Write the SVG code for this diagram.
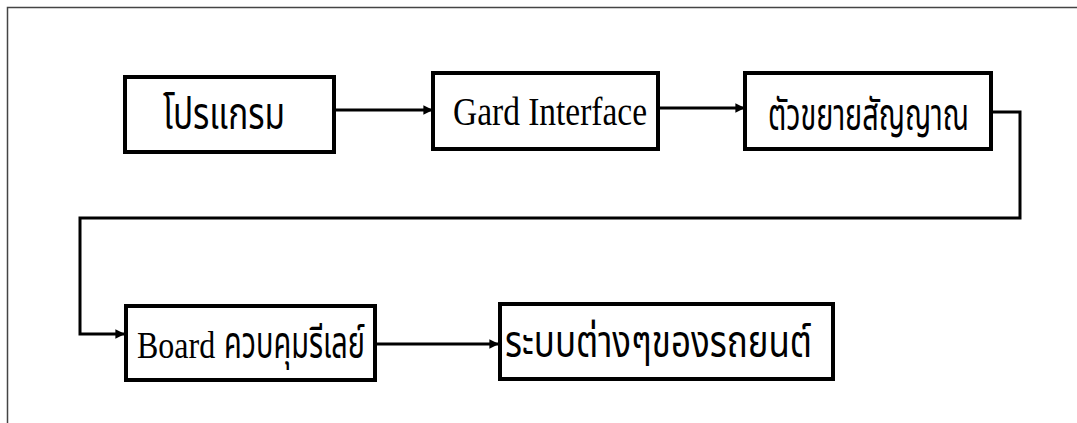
<svg xmlns="http://www.w3.org/2000/svg" width="1077" height="423" viewBox="0 0 1077 423">
<style>
.box{fill:#fff;stroke:#000;stroke-width:4}
.frame{fill:none;stroke:#444;stroke-width:1.5}
.con{fill:none;stroke:#000;stroke-width:3}
.t{font-family:"Liberation Serif","Noto Sans Thai","Noto Serif Thai","DejaVu Sans",serif;font-size:40px;fill:#000}
.th{font-size:44px}
</style>
<defs>
<marker id="ah" viewBox="0 0 10 10" refX="9" refY="5" markerWidth="3.2" markerHeight="3.2" orient="auto" markerUnits="strokeWidth">
<path d="M0,0 L10,5 L0,10 z" fill="#000"/>
</marker>
</defs>
<rect width="1077" height="423" fill="#fff"/>
<path class="frame" d="M7.5,423 V7.5 H1077"/>
<g id="connectors">
<path class="con" d="M334,110 H432" marker-end="url(#ah)"/>
<path class="con" d="M658,108 H744" marker-end="url(#ah)"/>
<path class="con" d="M991,112 H1020 V218 H80 V334 H124" marker-end="url(#ah)"/>
<path class="con" d="M375,344 H498" marker-end="url(#ah)"/>
</g>
<g id="n1"><rect class="box" x="125" y="77" width="209" height="75"/><text class="t th" x="163" y="129" textLength="122" lengthAdjust="spacingAndGlyphs">โปรแกรม</text></g>
<g id="n2"><rect class="box" x="433" y="73" width="225" height="76"/><text class="t" x="453" y="125" textLength="194" lengthAdjust="spacingAndGlyphs">Gard Interface</text></g>
<g id="n3"><rect class="box" x="745" y="73" width="246" height="76"/><text class="t th" x="768" y="130" textLength="201" lengthAdjust="spacingAndGlyphs">ตัวขยายสัญญาณ</text></g>
<g id="n4"><rect class="box" x="126" y="306" width="249" height="74"/><text class="t" transform="translate(137,358) scale(1,1.18)" x="0" y="0" style="font-size:32px">Board</text><text class="t th" x="224" y="358" textLength="141" lengthAdjust="spacingAndGlyphs">ควบคุมรีเลย์</text></g>
<g id="n5"><rect class="box" x="500" y="304" width="333" height="75"/><text class="t th" x="505" y="357" textLength="307" lengthAdjust="spacingAndGlyphs">ระบบต่างๆของรถยนต์</text></g>
</svg>
